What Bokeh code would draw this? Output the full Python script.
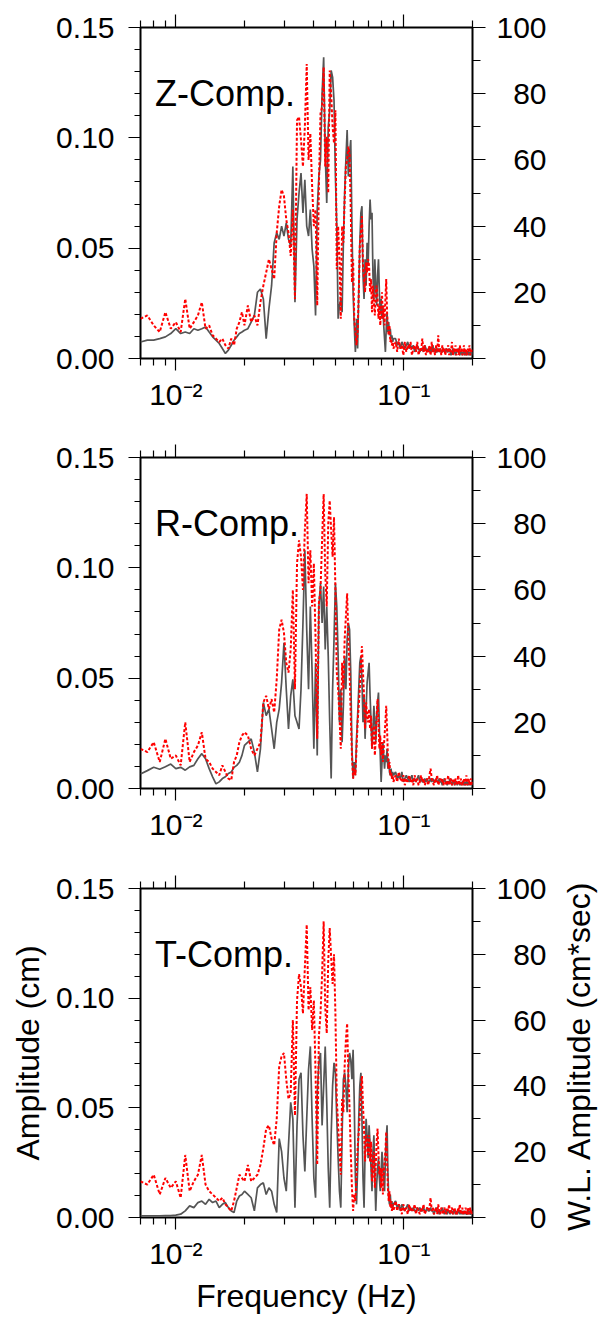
import math
from bokeh.plotting import figure
from bokeh.models import Range1d, LinearAxis, LogAxis, FixedTicker, PrintfTickFormatter, Label
from bokeh.layouts import column, row
from bokeh.embed import file_html
from bokeh.resources import INLINE

FONT = "Liberation Sans"

# ---------------- data ----------------
freq_low = [0.0070, 0.0075, 0.0080, 0.0085, 0.0090, 0.0095, 0.0100, 0.0105, 0.0110, 0.0115,
            0.0120, 0.0125, 0.0130, 0.0135, 0.0140, 0.0145, 0.0150, 0.0155, 0.0160, 0.0165,
            0.0170, 0.0175, 0.0180, 0.0185, 0.0190, 0.0195, 0.0200]
freq_mid = [0.0207, 0.0214, 0.0221, 0.0228, 0.0235, 0.0242, 0.0249, 0.0256, 0.0263, 0.0270,
            0.0277, 0.0284, 0.0291, 0.0298, 0.0305, 0.0312, 0.0319, 0.0326, 0.0333, 0.0340,
            0.0347, 0.0354, 0.0361, 0.0368, 0.0375, 0.0382, 0.0389, 0.0396, 0.0403, 0.0410,
            0.0417, 0.0424, 0.0431, 0.0438, 0.0445, 0.0452, 0.0459, 0.0466, 0.0473, 0.0480,
            0.0487, 0.0494, 0.0501, 0.0508, 0.0515, 0.0522, 0.0529, 0.0536, 0.0543, 0.0550,
            0.0557, 0.0564, 0.0571, 0.0578, 0.0585, 0.0592, 0.0599, 0.0606, 0.0613, 0.0620,
            0.0627, 0.0634, 0.0641, 0.0648, 0.0655, 0.0662, 0.0669, 0.0676, 0.0683, 0.0690,
            0.0697, 0.0704, 0.0711, 0.0718, 0.0725, 0.0732, 0.0739, 0.0746, 0.0753, 0.0760,
            0.0767, 0.0774, 0.0781, 0.0788, 0.0795, 0.0802, 0.0809, 0.0816, 0.0823, 0.0830,
            0.0837, 0.0844, 0.0851, 0.0858, 0.0865, 0.0872, 0.0879, 0.0886, 0.0893, 0.0900]
freq_high = [0.0920, 0.0935, 0.0950, 0.0965, 0.0980, 0.0995, 0.1010, 0.1025, 0.1040, 0.1055,
             0.1070, 0.1085, 0.1100, 0.1115, 0.1130, 0.1145, 0.1160, 0.1175, 0.1190, 0.1205,
             0.1220, 0.1235, 0.1250, 0.1265, 0.1280, 0.1295, 0.1310, 0.1325, 0.1340, 0.1355,
             0.1370, 0.1385, 0.1400, 0.1415, 0.1430, 0.1445, 0.1460, 0.1475, 0.1490, 0.1505,
             0.1520, 0.1535, 0.1550, 0.1565, 0.1580, 0.1595, 0.1610, 0.1625, 0.1640, 0.1655,
             0.1670, 0.1685, 0.1700, 0.1715, 0.1730, 0.1745, 0.1760, 0.1775, 0.1790, 0.1805,
             0.1820, 0.1835, 0.1850, 0.1865, 0.1880, 0.1895, 0.1910, 0.1925, 0.1940, 0.1955,
             0.1970, 0.1985, 0.2000]

# Z component: amplitude (cm, gray) and W.L. amplitude (cm*sec, red)
amp_z_low = [0.0075, 0.0083, 0.0083, 0.0090, 0.0098, 0.0113, 0.0135, 0.0113, 0.0120, 0.0113,
             0.0135, 0.0128, 0.0135, 0.0143, 0.0120, 0.0098, 0.0083, 0.0068, 0.0045, 0.0023,
             0.0038, 0.0060, 0.0083, 0.0098, 0.0113, 0.0120, 0.0128]
amp_z_mid = [0.0135, 0.0165, 0.0195, 0.0300, 0.0315, 0.0270, 0.0090, 0.0225, 0.0330, 0.0525,
             0.0570, 0.0540, 0.0600, 0.0555, 0.0615, 0.0540, 0.0510, 0.0870, 0.0255, 0.0630,
             0.0750, 0.0840, 0.0660, 0.0810, 0.0600, 0.0555, 0.0675, 0.0495, 0.0420, 0.0195,
             0.0675, 0.0825, 0.0900, 0.1200, 0.1365, 0.0930, 0.0705, 0.1050, 0.1125, 0.1305,
             0.1275, 0.1170, 0.0825, 0.0600, 0.0180, 0.0240, 0.0270, 0.0210, 0.0525, 0.0750,
             0.0900, 0.1035, 0.0825, 0.0930, 0.0990, 0.0600, 0.0300, 0.0150, 0.0030, 0.0180,
             0.0045, 0.0300, 0.0525, 0.0660, 0.0690, 0.0375, 0.0270, 0.0450, 0.0330, 0.0525,
             0.0420, 0.0600, 0.0720, 0.0630, 0.0660, 0.0375, 0.0270, 0.0450, 0.0330, 0.0240,
             0.0375, 0.0450, 0.0300, 0.0210, 0.0270, 0.0180, 0.0240, 0.0150, 0.0090, 0.0030,
             0.0135, 0.0210, 0.0120, 0.0165, 0.0105, 0.0135, 0.0090, 0.0105, 0.0075, 0.0090]
amp_z_high = [0.0090, 0.0060, 0.0075, 0.0045, 0.0075, 0.0060, 0.0045, 0.0060, 0.0075, 0.0045,
              0.0060, 0.0045, 0.0060, 0.0030, 0.0045, 0.0060, 0.0045, 0.0030, 0.0045, 0.0045,
              0.0030, 0.0060, 0.0045, 0.0030, 0.0045, 0.0030, 0.0045, 0.0030, 0.0060, 0.0030,
              0.0045, 0.0030, 0.0030, 0.0045, 0.0030, 0.0045, 0.0030, 0.0030, 0.0045, 0.0030,
              0.0030, 0.0045, 0.0030, 0.0030, 0.0045, 0.0030, 0.0015, 0.0030, 0.0045, 0.0030,
              0.0030, 0.0015, 0.0030, 0.0030, 0.0045, 0.0030, 0.0015, 0.0030, 0.0030, 0.0015,
              0.0030, 0.0030, 0.0015, 0.0030, 0.0015, 0.0030, 0.0030, 0.0015, 0.0030, 0.0015,
              0.0030, 0.0015, 0.0030]
wl_z_low = [12, 13, 10, 8, 14, 9, 11, 8, 18, 9, 11, 13, 17, 9, 10, 7, 6, 5, 6, 4, 3, 6, 4, 9, 11, 14, 10]
wl_z_mid = [16, 11, 13, 10, 17, 22, 26, 30, 27, 24,
            38, 46, 51, 49, 42, 38, 31, 45, 18, 72,
            73, 66, 58, 70, 89, 60, 68, 52, 40, 45,
            16, 52, 74, 76, 88, 58, 67, 50, 87, 80,
            70, 65, 75, 27, 40, 30, 12, 40, 35, 48,
            58, 60, 64, 62, 45, 23, 30, 12, 8, 4,
            8, 19, 34, 38, 43, 28, 24, 20, 29, 26,
            30, 28, 20, 24, 14, 22, 17, 13, 20, 22,
            18, 12, 16, 10, 15, 20, 12, 16, 10, 18,
            24, 14, 9, 7, 10, 5, 6, 4, 5, 3]
wl_z_high = [5, 2, 6, 3, 4, 1, 5, 2, 4, 3,
             5, 1, 3, 4, 2, 5, 1, 3, 2, 6,
             2, 4, 1, 3, 2, 4, 1, 5, 2, 3,
             1, 4, 2, 7, 2, 3, 1, 4, 2, 3,
             1, 3, 2, 4, 1, 3, 2, 5, 1, 3,
             2, 4, 1, 2, 3, 1, 4, 2, 3, 1,
             2, 4, 1, 3, 2, 1, 3, 2, 4, 1,
             2, 3, 2]

# R component
amp_r_low = [0.0066, 0.0081, 0.0096, 0.0087, 0.0099, 0.0111, 0.0090, 0.0096, 0.0083, 0.0098,
             0.0105, 0.0135, 0.0158, 0.0135, 0.0090, 0.0053, 0.0021, 0.0030, 0.0045, 0.0053,
             0.0068, 0.0075, 0.0096, 0.0105, 0.0119, 0.0150, 0.0195]
amp_r_mid = [0.0210, 0.0225, 0.0165, 0.0075, 0.0180, 0.0390, 0.0330, 0.0360, 0.0270, 0.0180,
             0.0300, 0.0360, 0.0480, 0.0660, 0.0450, 0.0270, 0.0420, 0.0495, 0.0330, 0.0300,
             0.0270, 0.0450, 0.0750, 0.1080, 0.0720, 0.0450, 0.0825, 0.0525, 0.0180, 0.0570,
             0.0150, 0.0825, 0.0930, 0.0750, 0.0915, 0.0630, 0.0825, 0.0600, 0.0300, 0.0045,
             0.0450, 0.0675, 0.0930, 0.0825, 0.0600, 0.0300, 0.0450, 0.0210, 0.0375, 0.0600,
             0.0450, 0.0675, 0.0750, 0.0720, 0.0525, 0.0180, 0.0045, 0.0120, 0.0060, 0.0225,
             0.0330, 0.0450, 0.0570, 0.0600, 0.0495, 0.0300, 0.0420, 0.0225, 0.0360, 0.0480,
             0.0525, 0.0570, 0.0420, 0.0300, 0.0180, 0.0270, 0.0375, 0.0300, 0.0210, 0.0330,
             0.0390, 0.0435, 0.0270, 0.0150, 0.0030, 0.0120, 0.0210, 0.0150, 0.0090, 0.0150,
             0.0120, 0.0180, 0.0090, 0.0135, 0.0075, 0.0060, 0.0090, 0.0045, 0.0075, 0.0060]
amp_r_high = [0.0075, 0.0045, 0.0060, 0.0045, 0.0075, 0.0030, 0.0045, 0.0060, 0.0045, 0.0030,
              0.0045, 0.0060, 0.0030, 0.0045, 0.0030, 0.0045, 0.0060, 0.0030, 0.0045, 0.0030,
              0.0030, 0.0045, 0.0030, 0.0045, 0.0030, 0.0030, 0.0045, 0.0030, 0.0045, 0.0030,
              0.0030, 0.0045, 0.0030, 0.0030, 0.0045, 0.0030, 0.0030, 0.0015, 0.0030, 0.0045,
              0.0030, 0.0030, 0.0015, 0.0030, 0.0030, 0.0045, 0.0030, 0.0015, 0.0030, 0.0030,
              0.0015, 0.0030, 0.0030, 0.0015, 0.0030, 0.0030, 0.0015, 0.0030, 0.0015, 0.0030,
              0.0030, 0.0015, 0.0030, 0.0015, 0.0030, 0.0030, 0.0015, 0.0030, 0.0015, 0.0030,
              0.0015, 0.0030, 0.0015]
wl_r_low = [12, 11, 14, 8, 15, 9, 10, 7, 20, 8, 11, 13, 17, 9, 8, 6, 5, 4, 7, 5, 3, 2.5, 8, 10, 14, 16, 17]
wl_r_mid = [16, 12, 10, 12, 14, 26, 28, 24, 27, 23,
            33, 48, 51, 47, 38, 35, 42, 60, 30, 68,
            75, 70, 60, 78, 89, 62, 72, 55, 68, 45,
            15, 56, 60, 75, 89, 65, 55, 80, 87, 78,
            70, 82, 60, 35, 30, 22, 12, 38, 30, 45,
            52, 59, 45, 35, 22, 10, 3, 6, 4, 12,
            20, 25, 30, 38, 43, 35, 28, 18, 26, 22,
            20, 24, 18, 22, 12, 16, 19, 10, 15, 22,
            27, 20, 12, 16, 10, 14, 8, 12, 16, 20,
            25, 18, 10, 6, 8, 4, 5, 3, 4, 2]
wl_r_high = [4, 2, 5, 3, 2, 4, 1, 3, 2, 4,
             2, 3, 1, 4, 2, 3, 1, 2, 4, 2,
             3, 1, 2, 3, 1, 4, 6, 3, 2, 1,
             3, 2, 4, 1, 2, 3, 2, 3, 1, 2,
             3, 1, 2, 4, 1, 2, 3, 1, 2, 3,
             1, 3, 2, 1, 4, 2, 1, 3, 2, 1,
             2, 3, 1, 2, 4, 1, 2, 3, 1, 2,
             3, 1, 2]

# T component
amp_t_low = [0.0008, 0.0008, 0.0008, 0.0008, 0.0009, 0.0009, 0.0011, 0.0015, 0.0030, 0.0053,
             0.0045, 0.0068, 0.0075, 0.0060, 0.0083, 0.0068, 0.0075, 0.0045, 0.0060, 0.0068,
             0.0045, 0.0030, 0.0023, 0.0075, 0.0098, 0.0105, 0.0120]
amp_t_mid = [0.0105, 0.0090, 0.0030, 0.0135, 0.0150, 0.0158, 0.0105, 0.0135, 0.0120, 0.0060,
             0.0023, 0.0360, 0.0300, 0.0180, 0.0120, 0.0330, 0.0525, 0.0450, 0.0045, 0.0420,
             0.0630, 0.0660, 0.0375, 0.0210, 0.0450, 0.0675, 0.0780, 0.0450, 0.0180, 0.0090,
             0.0570, 0.0705, 0.0750, 0.0420, 0.0600, 0.0780, 0.0525, 0.0225, 0.0045, 0.0375,
             0.0600, 0.0705, 0.0660, 0.0450, 0.0270, 0.0120, 0.0045, 0.0375, 0.0630, 0.0660,
             0.0600, 0.0480, 0.0675, 0.0750, 0.0720, 0.0630, 0.0765, 0.0525, 0.0180, 0.0060,
             0.0225, 0.0450, 0.0600, 0.0660, 0.0450, 0.0180, 0.0045, 0.0300, 0.0450, 0.0375,
             0.0270, 0.0420, 0.0330, 0.0225, 0.0120, 0.0300, 0.0375, 0.0180, 0.0030, 0.0150,
             0.0225, 0.0270, 0.0180, 0.0120, 0.0210, 0.0300, 0.0240, 0.0180, 0.0120, 0.0270,
             0.0360, 0.0420, 0.0210, 0.0090, 0.0060, 0.0105, 0.0045, 0.0075, 0.0045, 0.0060]
amp_t_high = [0.0075, 0.0045, 0.0060, 0.0030, 0.0060, 0.0045, 0.0030, 0.0045, 0.0060, 0.0030,
              0.0045, 0.0030, 0.0045, 0.0030, 0.0030, 0.0045, 0.0030, 0.0045, 0.0030, 0.0030,
              0.0045, 0.0030, 0.0030, 0.0045, 0.0030, 0.0030, 0.0045, 0.0030, 0.0030, 0.0015,
              0.0030, 0.0045, 0.0030, 0.0030, 0.0015, 0.0030, 0.0030, 0.0045, 0.0030, 0.0015,
              0.0030, 0.0030, 0.0015, 0.0030, 0.0030, 0.0015, 0.0030, 0.0030, 0.0015, 0.0030,
              0.0030, 0.0015, 0.0030, 0.0015, 0.0030, 0.0030, 0.0015, 0.0030, 0.0015, 0.0030,
              0.0015, 0.0030, 0.0015, 0.0030, 0.0015, 0.0015, 0.0030, 0.0015, 0.0030, 0.0015,
              0.0015, 0.0030, 0.0015]
wl_t_low = [11, 10, 13, 7, 12, 9, 11, 6, 19, 8, 11, 13, 19, 10, 8, 7, 6, 5, 6, 4, 3, 2, 5, 9, 13, 12, 11]
wl_t_mid = [16, 11, 12, 13, 16, 21, 27, 28, 24, 22,
            30, 46, 49, 50, 42, 36, 38, 60, 31, 66,
            74, 70, 62, 76, 89, 63, 70, 57, 66, 44,
            16, 55, 62, 74, 90, 64, 56, 78, 88, 79,
            71, 80, 62, 36, 28, 20, 13, 36, 32, 46,
            54, 59, 44, 33, 20, 9, 2, 7, 5, 13,
            21, 26, 31, 39, 43, 34, 27, 17, 25, 23,
            19, 25, 17, 23, 11, 15, 20, 9, 16, 23,
            27, 19, 13, 15, 9, 15, 7, 13, 17, 20,
            26, 17, 9, 5, 8, 3, 5, 2, 4, 2]
wl_t_high = [5, 2, 4, 3, 1, 4, 2, 3, 1, 4,
             2, 3, 2, 4, 1, 3, 2, 1, 3, 2,
             4, 1, 2, 3, 2, 3, 6, 2, 3, 1,
             2, 3, 1, 4, 2, 1, 3, 2, 1, 3,
             2, 1, 3, 2, 4, 1, 2, 3, 1, 2,
             3, 1, 2, 1, 3, 2, 4, 1, 2, 3,
             1, 2, 1, 3, 2, 1, 3, 1, 2, 3,
             1, 2, 1]

panel_names = ["Z-Comp.", "R-Comp.", "T-Comp."]
x_title = "Frequency (Hz)"
y_left_title = "Amplitude (cm)"
y_right_title = "W.L. Amplitude (cm*sec)"

x_major = [0.01, 0.1]
x_minor = [0.007, 0.008, 0.009, 0.02, 0.03, 0.04, 0.05, 0.06, 0.07, 0.08, 0.09, 0.2]
x_major_text = {0.01: "10\u207b\u00b2", 0.1: "10\u207b\u00b9"}
y_left_major = [0.0, 0.05, 0.10, 0.15]
y_left_minor = [0.01, 0.02, 0.03, 0.04, 0.06, 0.07, 0.08, 0.09, 0.11, 0.12, 0.13, 0.14]
y_right_major = [0, 20, 40, 60, 80, 100]
y_right_minor = [10, 30, 50, 70, 90]
FSP = "\u2007"
y_right_text = {0: FSP * 2 + "0", 20: FSP + "20", 40: FSP + "40", 60: FSP + "60", 80: FSP + "80", 100: "100"}

freq = freq_low + freq_mid + freq_high
amp_series = [amp_z_low + amp_z_mid + amp_z_high,
              amp_r_low + amp_r_mid + amp_r_high,
              amp_t_low + amp_t_mid + amp_t_high]
wl_series = [wl_z_low + wl_z_mid + wl_z_high,
             wl_r_low + wl_r_mid + wl_r_high,
             wl_t_low + wl_t_mid + wl_t_high]
for k, (a, w) in enumerate(zip(amp_series, wl_series)):
    if len(a) != len(freq) or len(w) != len(freq):
        raise ValueError(f"panel {k}: freq {len(freq)} amp {len(a)} wl {len(w)}")


def style_axis(ax, major_out, minor_out, standoff):
    ax.axis_line_color = None
    ax.major_tick_in = 0
    ax.major_tick_out = major_out
    ax.minor_tick_in = 0
    ax.minor_tick_out = minor_out
    ax.major_tick_line_color = "black"
    ax.minor_tick_line_color = "black"
    ax.major_tick_line_width = 1.2
    ax.minor_tick_line_width = 1.2
    ax.major_label_standoff = standoff
    ax.major_label_text_font = FONT
    ax.major_label_text_font_size = "30px"
    ax.major_label_text_color = "black"
    ax.axis_label_text_font = FONT
    ax.axis_label_text_font_size = "32px"
    ax.axis_label_text_font_style = "normal"
    ax.axis_label_text_color = "black"


# panel geometry: (top border, total height)
geometry = [(27, 438), (19, 430), (20, 448)]
total_height = sum(h for _, h in geometry)

plots = []
for i in range(3):
    last = (i == 2)
    top, height = geometry[i]
    bottom = height - top - 331
    p = figure(width=558, height=height, x_axis_type="log",
               x_range=Range1d(0.007, 0.2), y_range=Range1d(0.0, 0.15),
               min_border_left=140, min_border_right=86,
               min_border_top=top, min_border_bottom=bottom,
               output_backend="svg", toolbar_location=None)
    p.extra_y_ranges = {"wl": Range1d(0, 100)}
    p.xgrid.visible = False
    p.ygrid.visible = False
    p.outline_line_color = "black"
    p.outline_line_width = 2
    p.background_fill_color = "white"
    p.border_fill_color = "white"

    xb = p.xaxis[0]
    xb.ticker = FixedTicker(ticks=x_major, minor_ticks=x_minor)
    xb.major_label_overrides = x_major_text
    style_axis(xb, 12, 7, 7)

    yl = p.yaxis[0]
    yl.ticker = FixedTicker(ticks=y_left_major, minor_ticks=y_left_minor)
    yl.formatter = PrintfTickFormatter(format="%.2f")
    style_axis(yl, 12, 6, 14)

    xt = LogAxis(ticker=FixedTicker(ticks=x_major, minor_ticks=x_minor))
    style_axis(xt, 13, 7, 0)
    xt.major_label_text_font_size = "1px"
    xt.major_label_text_alpha = 0
    p.add_layout(xt, "above")

    yr = LinearAxis(y_range_name="wl",
                    ticker=FixedTicker(ticks=y_right_major, minor_ticks=y_right_minor))
    yr.major_label_overrides = y_right_text
    style_axis(yr, 13, 8, 11)
    p.add_layout(yr, "right")

    if last:
        xb.axis_label = x_title
        xb.axis_label_standoff = 5
        yl.axis_label = y_left_title
        yl.axis_label_standoff = 7

    p.line(freq, amp_series[i], line_color="#555555", line_width=1.7)
    p.line(freq, wl_series[i], y_range_name="wl", line_color="#ff0000",
           line_width=2, line_dash="3 2")
    p.add_layout(Label(x=0.0081, y=0.12, text=panel_names[i], text_font=FONT,
                       text_font_size="36px", text_color="black",
                       text_baseline="alphabetic"))
    plots.append(p)

# narrow strip on the right that carries the right-hand axis title (reads bottom-to-top)
strip = figure(width=40, height=total_height, x_range=Range1d(0, 1), y_range=Range1d(0, 1),
               x_axis_type=None, y_axis_type=None, min_border=0,
               output_backend="svg", toolbar_location=None)
strip.outline_line_color = None
strip.background_fill_color = "white"
strip.border_fill_color = "white"
strip.add_layout(Label(x=0.5, y=0.198, text=y_right_title, angle=90, angle_units="deg",
                       text_align="center", text_baseline="middle",
                       text_font=FONT, text_font_size="32px", text_color="black"))

layout = row(column(*plots), strip)
open("out.html", "w").write(file_html(layout, INLINE))
